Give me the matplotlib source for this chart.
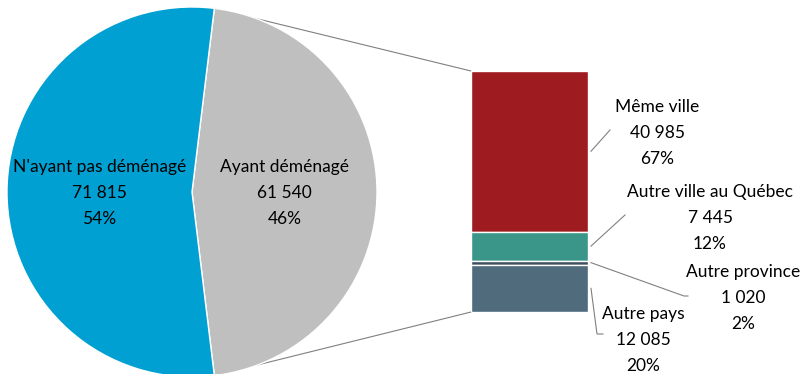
import numpy as np
import matplotlib.pyplot as plt
from matplotlib.patches import ConnectionPatch

plt.rcParams['font.family'] = ['Lato', 'DejaVu Sans']
plt.rcParams['font.size'] = 12.5

# données : population selon le statut de déménagement
pie_labels = ["Ayant déménagé", "N'ayant pas déménagé"]
pie_values = [61540, 71815]
pie_colors = ["#BFBFBF", "#00A0D2"]

# détail des personnes ayant déménagé (du haut vers le bas de la barre)
bar_labels = ["Même ville", "Autre ville au Québec", "Autre province", "Autre pays"]
bar_values = [40985, 7445, 1020, 12085]
bar_colors = ["#9E1B20", "#3A9688", "#3E4F5F", "#4F6B7C"]


def fmt(v):
    return f"{v:,}".replace(",", " ")


W, H = 802, 374
fig = plt.figure(figsize=(W / 100, H / 100), dpi=100)

# axe du camembert
ax_pie = fig.add_axes([7 / W, (H - 377) / H, 370 / W, 370 / H])
grey_frac = pie_values[0] / sum(pie_values)
wedges, _ = ax_pie.pie(pie_values, colors=pie_colors, startangle=-grey_frac * 180,
                       radius=1, wedgeprops=dict(edgecolor="white", linewidth=1))
ax_pie.set_xlim(-1, 1)
ax_pie.set_ylim(-1, 1)
ax_pie.set_aspect("equal")
ax_pie.axis("off")
for w, lab, val in zip(wedges, pie_labels, pie_values):
    ang = np.deg2rad((w.theta1 + w.theta2) / 2)
    pct = round(val / sum(pie_values) * 100)
    ax_pie.text(0.5 * np.cos(ang), 0.5 * np.sin(ang) - 0.005,
                f"{lab}\n{fmt(val)}\n{pct}%", ha="center", va="center",
                linespacing=1.8, color="black")

# barre empilée
ax_bar = fig.add_axes([471 / W, (H - 312) / H, 117 / W, 241 / H])
total = sum(bar_values)
bottom = total
mids = []
for val, col in zip(bar_values, bar_colors):
    bottom -= val
    ax_bar.bar(0, val, bottom=bottom, width=1, color=col, edgecolor="white", linewidth=1)
    mids.append(bottom + val / 2)
ax_bar.set_xlim(-0.5, 0.5)
ax_bar.set_ylim(0, total)
ax_bar.axis("off")

# lignes reliant le camembert à la barre
t = np.deg2rad(wedges[0].theta2)
b = np.deg2rad(wedges[0].theta1)
for (px, py), by in [((np.cos(t), np.sin(t)), total), ((np.cos(b), np.sin(b)), 0)]:
    con = ConnectionPatch(xyA=(px, py), coordsA=ax_pie.transData,
                          xyB=(-0.5, by), coordsB=ax_bar.transData,
                          color="#808080", linewidth=0.8)
    fig.add_artist(con)
    con.set_zorder(-1)

# étiquettes de la barre, en pixels
ax_txt = fig.add_axes([0, 0, 1, 1])
ax_txt.set_xlim(0, W)
ax_txt.set_ylim(H, 0)
ax_txt.axis("off")

label_pos = [(657, 133), (710, 218), (743, 298), (643, 340)]
leader_ends = [[(610, 130)], [(625, 215)], [(684, 296), (688, 296)], [(597, 334), (603, 334)]]
for lab, val, mid, (tx, ty), ends in zip(bar_labels, bar_values, mids, label_pos, leader_ends):
    pct = round(val / total * 100)
    ax_txt.text(tx, ty, f"{lab}\n{fmt(val)}\n{pct}%", ha="center", va="center",
                linespacing=1.8, color="black")
    sx, sy = ax_txt.transData.inverted().transform(ax_bar.transData.transform((0.5, mid)))
    xs = [sx + 3] + [e[0] for e in ends]
    ys = [sy] + [e[1] for e in ends]
    ax_txt.plot(xs, ys, color="#808080", linewidth=0.8)

fig.savefig("out.png", dpi=100)
